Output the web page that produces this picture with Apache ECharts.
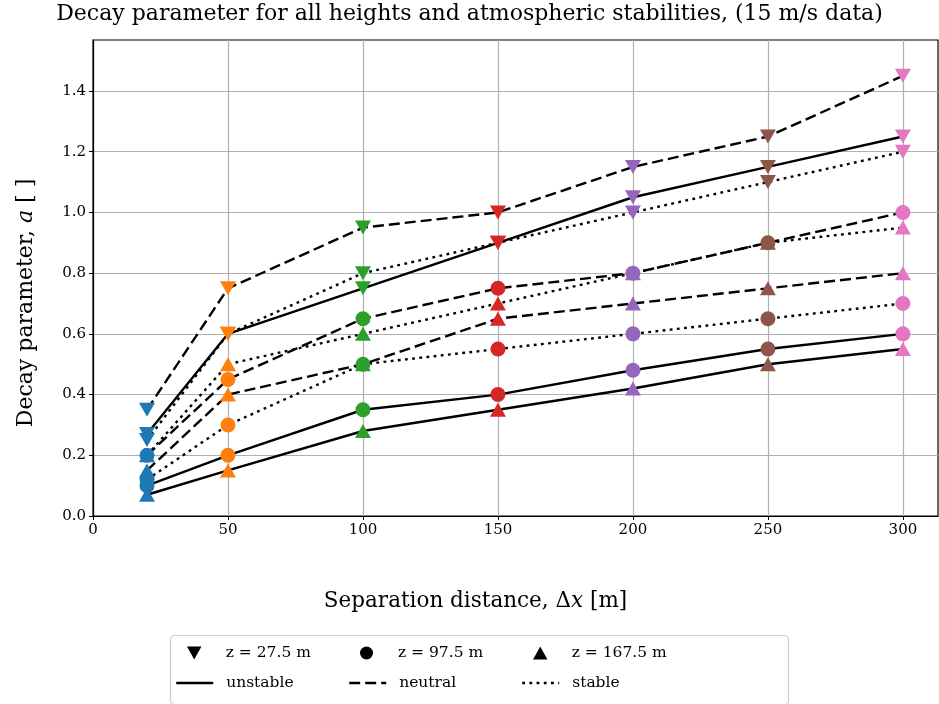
<!DOCTYPE html>
<html><head><meta charset="utf-8">
<script src="https://cdn.jsdelivr.net/npm/echarts@6/dist/echarts.min.js"></script>
<style>html,body{margin:0;padding:0;background:#fff}#c{width:939px;height:704px}</style>
</head><body><div id="c"></div>
<script>
// ---- data ----
const separation = [20, 50, 100, 150, 200, 250, 300];
const xTicks = [0, 50, 100, 150, 200, 250, 300];
const yTicks = [0.0, 0.2, 0.4, 0.6, 0.8, 1.0, 1.2, 1.4];

const z275_unstable = [0.27, 0.60, 0.75, 0.90, 1.05, 1.15, 1.25];
const z275_neutral  = [0.35, 0.75, 0.95, 1.00, 1.15, 1.25, 1.45];
const z275_stable   = [0.25, 0.60, 0.80, 0.90, 1.00, 1.10, 1.20];

const z975_unstable = [0.10, 0.20, 0.35, 0.40, 0.48, 0.55, 0.60];
const z975_neutral  = [0.20, 0.45, 0.65, 0.75, 0.80, 0.90, 1.00];
const z975_stable   = [0.12, 0.30, 0.50, 0.55, 0.60, 0.65, 0.70];

const z1675_unstable = [0.07, 0.15, 0.28, 0.35, 0.42, 0.50, 0.55];
const z1675_neutral  = [0.15, 0.40, 0.50, 0.65, 0.70, 0.75, 0.80];
const z1675_stable   = [0.20, 0.50, 0.60, 0.70, 0.80, 0.90, 0.95];

const heightNames = ['z = 27.5 m', 'z = 97.5 m', 'z = 167.5 m'];
const stabilityNames = ['unstable', 'neutral', 'stable'];
const titleText = 'Decay parameter for all heights and atmospheric stabilities, (15 m/s data)';

// ---- style ----
const FONT = 'DejaVu Serif';
const pointColors = ['#1f77b4', '#ff7f0e', '#2ca02c', '#d62728', '#9467bd', '#8c564b', '#e377c2'];
const DOWN = 'path://M0,0 L10,0 L5,9 Z';
const UP = 'path://M5,0 L10,9 L0,9 Z';
const heightSymbols = [DOWN, 'circle', UP];
const symbolSizes = [[16, 14], 15, [16, 14]];
const lineTypes = ['solid', [11, 5], [2.8, 4.4]];

const groups = [
  [z275_unstable, z275_neutral, z275_stable],
  [z975_unstable, z975_neutral, z975_stable],
  [z1675_unstable, z1675_neutral, z1675_stable]
];

const series = [];
groups.forEach((g, h) => {
  g.forEach((vals, s) => {
    const data = separation.map((x, i) => [x, vals[i]]);
    series.push({
      type: 'line', data, symbol: 'none', z: 2, silent: true,
      lineStyle: { color: '#000', width: 2.4, type: lineTypes[s] }
    });
  });
});
groups.forEach((g, h) => {
  g.forEach((vals, s) => {
    const data = separation.map((x, i) => [x, vals[i]]);
    series.push({
      type: 'scatter', data, symbol: heightSymbols[h], symbolSize: symbolSizes[h], z: 3, silent: true,
      itemStyle: { color: p => pointColors[p.dataIndex], opacity: 1 }
    });
  });
});
// legend dummies
heightNames.forEach((n, h) => series.push({
  type: 'scatter', name: n, data: [], symbol: heightSymbols[h], itemStyle: { color: '#000' }
}));
stabilityNames.forEach((n, s) => series.push({
  type: 'line', name: n, data: [], symbol: 'none', itemStyle: { color: '#000' },
  lineStyle: { color: '#000', width: 2.4, type: lineTypes[s] }
}));

const colLeft = [175, 348, 521];
const legendText = { fontFamily: FONT, fontSize: 15.5, color: '#000', padding: [0, 0, 0, 8] };
const legends = [];
heightNames.forEach((n, h) => legends.push({
  data: [{ name: n, icon: heightSymbols[h] }], left: colLeft[h] + 12, top: 645, padding: 0,
  itemWidth: 37, itemHeight: 13, symbolKeepAspect: true, selectedMode: false,
  itemStyle: { color: '#000', opacity: 1 },
  textStyle: legendText
}));
stabilityNames.forEach((n, s) => legends.push({
  data: [n], left: colLeft[s], top: 675, padding: 0,
  itemWidth: 37, itemHeight: 13, selectedMode: false,
  itemStyle: { opacity: 0 },
  lineStyle: { color: '#000', width: 2.4, type: lineTypes[s] },
  textStyle: legendText
}));

const chart = echarts.init(document.getElementById('c'));
chart.setOption({
  animation: false,
  backgroundColor: '#fff',
  textStyle: { fontFamily: FONT },
  title: {
    text: titleText, left: 'center', top: -2,
    textStyle: { fontFamily: FONT, fontSize: 22, fontWeight: 'normal', color: '#000' }
  },
  grid: { left: 93, right: 1, top: 40, bottom: 188, show: true, borderColor: '#000', borderWidth: 1.2, backgroundColor: 'transparent' },
  xAxis: {
    type: 'value', min: 0, max: 313, interval: 50,
    name: '{n|Separation distance, Δ}{i|x}{n| [m]}', nameLocation: 'middle', nameGap: 74,
    nameTextStyle: { padding: [0, 80, 0, 0], rich: {
      n: { fontFamily: FONT, fontSize: 21.5, color: '#000' },
      i: { fontFamily: FONT, fontSize: 21.5, color: '#000', fontStyle: 'italic' } } },
    axisLine: { lineStyle: { color: '#000', width: 1.2 } },
    axisTick: { show: true, length: 4, lineStyle: { color: '#000' }, customValues: xTicks },
    axisLabel: { customValues: xTicks, fontFamily: FONT, fontSize: 15, color: '#000', margin: 7 },
    splitLine: { show: true, lineStyle: { color: '#b0b0b0', width: 1.2 } }
  },
  yAxis: {
    type: 'value', min: 0, max: 1.568, interval: 0.2,
    name: '{n|Decay parameter, }{i|a}{n| [ ]}', nameLocation: 'middle', nameGap: 56,
    nameTextStyle: { padding: [0, 50, 0, 0], rich: {
      n: { fontFamily: FONT, fontSize: 22, color: '#000' },
      i: { fontFamily: FONT, fontSize: 22, color: '#000', fontStyle: 'italic' } } },
    axisLine: { show: true, lineStyle: { color: '#000', width: 1.2 } },
    axisTick: { show: true, length: 4, lineStyle: { color: '#000' }, customValues: yTicks },
    axisLabel: { customValues: yTicks, fontFamily: FONT, fontSize: 15, color: '#000', margin: 7,
      formatter: v => v.toFixed(1) },
    splitLine: { show: true, lineStyle: { color: '#b0b0b0', width: 1.2 } }
  },
  legend: legends,
  graphic: [{
    type: 'rect', left: 168, top: 633, silent: true,
    shape: { width: 618, height: 69, r: 4 },
    style: { fill: 'none', stroke: '#cccccc', lineWidth: 1.2 }
  }],
  series
});
</script></body></html>
